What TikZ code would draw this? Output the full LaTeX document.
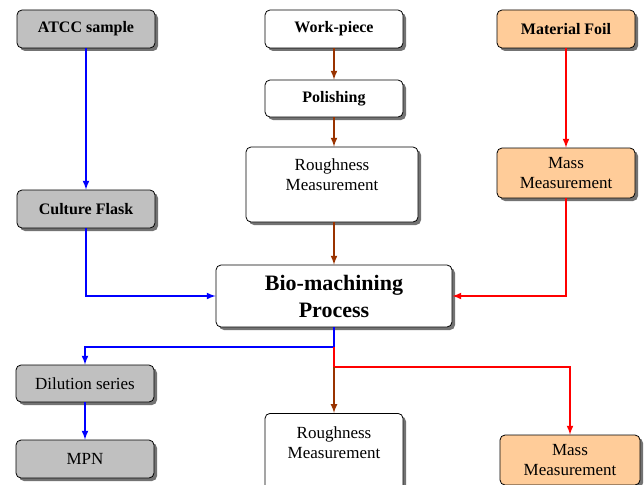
\documentclass[tikz,border=0pt]{standalone}
\usepackage{fontspec}
\setmainfont{Liberation Serif}
\usepackage{tikz}
\usetikzlibrary{arrows,shadows}

\definecolor{boxgray}{RGB}{192,192,192}
\definecolor{boxorange}{RGB}{255,204,153}
\definecolor{rust}{RGB}{153,51,0}

\tikzset{
	box/.style={draw=black,thick,rounded corners=5pt,align=center,
		font=\fontsize{17}{20}\selectfont,inner sep=2pt,
		drop shadow={shadow xshift=3pt,shadow yshift=-3pt,fill=black!55,opacity=1}},
	boldtext/.style={font=\fontsize{16}{18}\selectfont\bfseries},
	graybox/.style={box,fill=boxgray,minimum width=138pt,minimum height=38pt},
	orangebox/.style={box,fill=boxorange,minimum width=138pt},
	whitebox/.style={box,fill=white,minimum width=138pt},
	blueline/.style={draw=blue,line width=2pt,-latex},
	redline/.style={draw=red,line width=2pt,-latex},
	brownline/.style={draw=rust,line width=2pt,-latex}
}

\begin{document}
\begin{tikzpicture}[x=1pt,y=-1pt]
\clip (0,0) rectangle (644,484);
\fill[white] (0,0) rectangle (644,484);

% left column
\node[graybox,boldtext] (atcc) at (86,29) {ATCC sample};
\node[graybox,boldtext] (flask) at (86,209) {Culture Flask};
\node[graybox,minimum height=37pt] (dilution) at (85,383.5) {Dilution series};
\node[graybox] (mpn) at (85,459) {MPN};

% middle column
\node[whitebox,minimum height=38pt,boldtext] (work) at (334,29) {Work-piece};
\node[whitebox,minimum height=37pt,boldtext] (polish) at (334,98.5) {Polishing};
\node[whitebox,minimum width=172pt,minimum height=75pt] (rough) at (332,184.5) {Roughness\\Measurement\\[0pt]};
\node[whitebox,minimum width=236pt,minimum height=62pt,
	font=\fontsize{22}{27}\selectfont\bfseries] (bio) at (334,296) {Bio-machining\\Process};
\node[whitebox,minimum height=82pt,anchor=north] (rough2) at (334,413) {Roughness\\Measurement\\[4pt]};

% right column
\node[orangebox,minimum height=38pt,boldtext] (foil) at (566,29) {Material Foil};
\node[orangebox,minimum height=50pt] (mass) at (566,173) {Mass\\Measurement};
\node[orangebox,minimum width=140pt,minimum height=50pt] (mass2) at (570,460) {Mass\\Measurement};

\coordinate (split) at (334,347);
\coordinate (fork) at (334,367);

% connectors
\draw[blueline] (atcc) -- (flask);
\draw[blueline] (flask.south) |- (bio.west);
\draw[brownline] (work) -- (polish);
\draw[brownline] (polish) -- (rough.north -| polish);
\draw[brownline] (rough.south -| bio) -- (bio);
\draw[redline] (foil) -- (mass);
\draw[redline] (mass.south) |- (bio.east);
\draw[blueline] (bio.south) -- (split) -| (dilution.north);
\draw[blueline] (dilution) -- (mpn);
\draw[redline] (split) -- (fork) -| (mass2.north);
\draw[brownline] (fork) -- (rough2.north);

\end{tikzpicture}
\end{document}
